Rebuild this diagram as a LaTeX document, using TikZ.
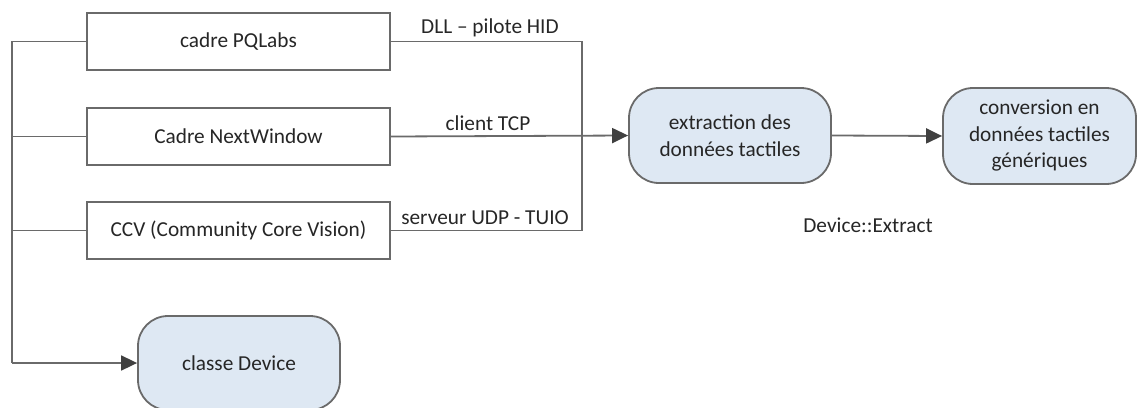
\documentclass[tikz,border=0pt]{standalone}
\usepackage{fontspec}
\setmainfont{Carlito}
\usetikzlibrary{arrows.meta}
\definecolor{ln}{HTML}{6A6A6A}
\definecolor{bx}{HTML}{DEE8F3}
\definecolor{tx}{HTML}{262626}
\begin{document}
\begin{tikzpicture}[x=1pt,y=-1pt,
  every node/.style={font=\fontsize{21.3}{26.5}\selectfont, text=tx},
  rectbox/.style={draw=ln, line width=1.8pt, fill=white, minimum width=303pt, minimum height=57pt, inner sep=0pt},
  roundbox/.style={draw=ln, line width=1.8pt, fill=bx, rounded corners=30pt, inner sep=0pt, align=center},
  conn/.style={draw=ln, line width=1.8pt},
  arr/.style={conn, -{Triangle[length=16pt,width=15pt,fill=black!75,color=black!75]}},
  lbl/.style={inner sep=0pt}]
\useasboundingbox (0,0) rectangle (1137,407);
\node[rectbox] (pq) at (238.5,41.5) {cadre PQLabs};
\node[rectbox] (nw) at (238.5,136.5) {Cadre NextWindow};
\node[rectbox] (ccv) at (238.5,230.5) {CCV (Community Core Vision)};
\node[roundbox, minimum width=202pt, minimum height=95pt] (ext) at (730,135.5) {extraction des\\données tactiles};
\node[roundbox, minimum width=193pt, minimum height=96pt] (conv) at (1039.5,136) {conversion en\\données tactiles\\génériques};
\node[roundbox, minimum width=202pt, minimum height=94pt] (dev) at (239,363) {classe Device};
\coordinate (lt) at (12,41.5);
\coordinate (lm) at (12,136.5);
\coordinate (lc) at (12,230.5);
\coordinate (lb) at (12,363);
\coordinate (rt) at (582,41.5);
\coordinate (rb) at (582,230.5);
\path[conn] (pq.west) -- (lt) -- (lb);
\path[conn] (nw.west) -- (lm);
\path[conn] (ccv.west) -- (lc);
\path[arr] (lb) -- (dev.west);
\path[conn] (pq.east) -- (rt) -- (rb) -- (ccv.east);
\path[arr] (nw.east) -- (ext.west);
\path[arr] (ext.east) -- (conv.west);
\node[lbl] (l1) at (490,28) {DLL – pilote HID};
\node[lbl] (l2) at (488,123) {client TCP};
\node[lbl] (l3) at (485,218) {serveur UDP - TUIO};
\node[lbl] (l4) at (868,225) {Device::Extract};
\end{tikzpicture}
\end{document}
